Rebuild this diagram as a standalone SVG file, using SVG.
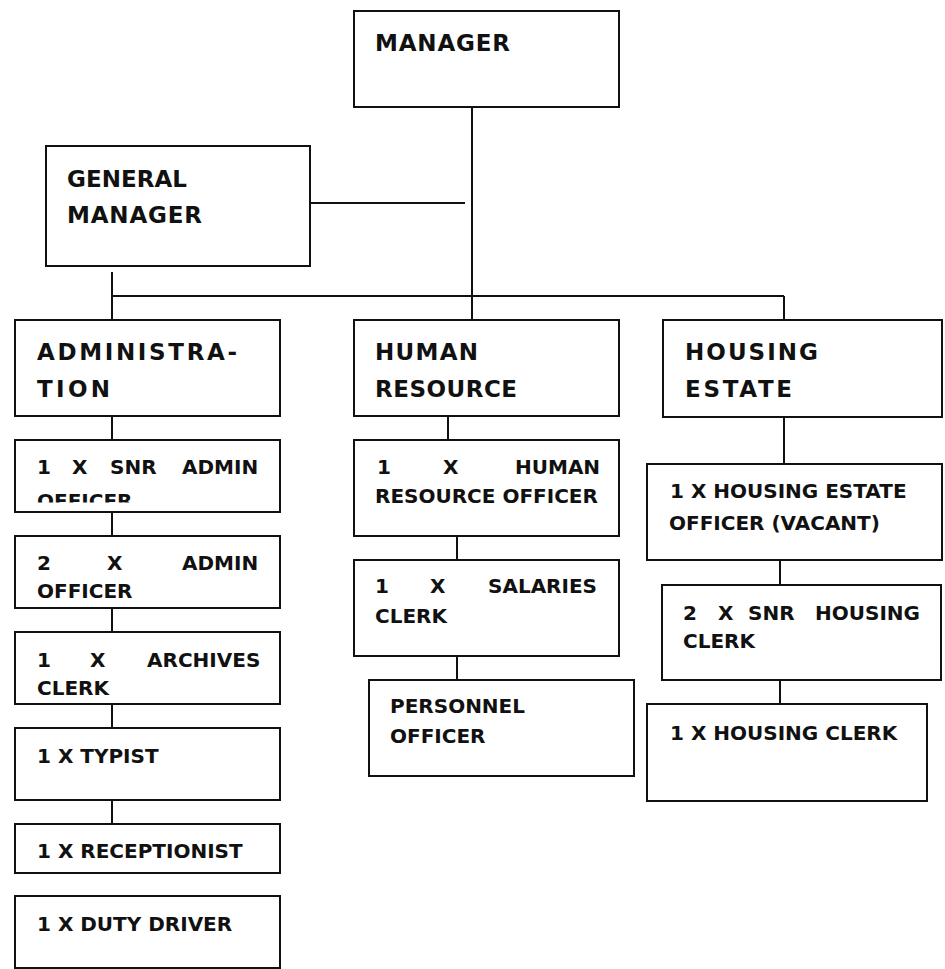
<svg xmlns="http://www.w3.org/2000/svg" width="945" height="969" viewBox="0 0 945 969">
  <style>
    .box { fill: #ffffff; stroke: #111111; stroke-width: 2; }
    .link { stroke: #111111; stroke-width: 2; fill: none; }
    .h { font-family: "DejaVu Sans", "Liberation Sans", sans-serif; font-weight: bold; font-size: 23px; fill: #111111; }
    .s { font-family: "DejaVu Sans", "Liberation Sans", sans-serif; font-weight: bold; font-size: 20px; fill: #111111; }
  </style>
  <defs>
    <clipPath id="clipSnrAdmin"><rect x="15" y="440" width="265" height="62.5"/></clipPath>
  </defs>
  <rect width="945" height="969" fill="#ffffff"/>

  <!-- connectors -->
  <g id="connectors">
    <line class="link" x1="472" y1="107" x2="472" y2="320"/>
    <line class="link" x1="310" y1="203" x2="465" y2="203"/>
    <line class="link" x1="112" y1="296" x2="784" y2="296"/>
    <line class="link" x1="112" y1="272" x2="112" y2="320"/>
    <line class="link" x1="784" y1="296" x2="784" y2="320"/>
    <!-- administration chain -->
    <line class="link" x1="112" y1="416" x2="112" y2="440"/>
    <line class="link" x1="112" y1="512" x2="112" y2="536"/>
    <line class="link" x1="112" y1="608" x2="112" y2="632"/>
    <line class="link" x1="112" y1="704" x2="112" y2="728"/>
    <line class="link" x1="112" y1="800" x2="112" y2="824"/>
    <!-- human resource chain -->
    <line class="link" x1="448" y1="416" x2="448" y2="440"/>
    <line class="link" x1="457" y1="536" x2="457" y2="560"/>
    <line class="link" x1="457" y1="656" x2="457" y2="680"/>
    <!-- housing chain -->
    <line class="link" x1="784" y1="417" x2="784" y2="464"/>
    <line class="link" x1="780" y1="560" x2="780" y2="585"/>
    <line class="link" x1="780" y1="680" x2="780" y2="704"/>
  </g>

  <g id="manager">
    <rect class="box" x="354" y="11" width="265" height="96"/>
    <text class="h" x="375" y="51" textLength="135" lengthAdjust="spacing">MANAGER</text>
  </g>

  <g id="general-manager">
    <rect class="box" x="46" y="146" width="264" height="120"/>
    <text class="h" x="67" y="187" textLength="120" lengthAdjust="spacing">GENERAL</text>
    <text class="h" x="67" y="223" textLength="135" lengthAdjust="spacing">MANAGER</text>
  </g>

  <!-- administration column -->
  <g id="administration">
    <rect class="box" x="15" y="320" width="265" height="96"/>
    <text class="h" x="37" y="360" textLength="200" lengthAdjust="spacing">ADMINISTRA-</text>
    <text class="h" x="37" y="397" textLength="73" lengthAdjust="spacing">TION</text>
  </g>

  <g id="snr-admin-officer">
    <rect class="box" x="15" y="440" width="265" height="72"/>
    <text class="s" y="474"><tspan x="37">1</tspan><tspan x="72">X</tspan><tspan x="110">SNR</tspan><tspan x="182">ADMIN</tspan></text>
    <text class="s" x="37" y="508" clip-path="url(#clipSnrAdmin)">OFFICER</text>
  </g>

  <g id="admin-officer">
    <rect class="box" x="15" y="536" width="265" height="72"/>
    <text class="s" y="570"><tspan x="37">2</tspan><tspan x="107">X</tspan><tspan x="182">ADMIN</tspan></text>
    <text class="s" x="37" y="598">OFFICER</text>
  </g>

  <g id="archives-clerk">
    <rect class="box" x="15" y="632" width="265" height="72"/>
    <text class="s" y="667"><tspan x="37">1</tspan><tspan x="90">X</tspan><tspan x="147">ARCHIVES</tspan></text>
    <text class="s" x="37" y="695">CLERK</text>
  </g>

  <g id="typist">
    <rect class="box" x="15" y="728" width="265" height="72"/>
    <text class="s" x="37" y="763">1 X TYPIST</text>
  </g>

  <g id="receptionist">
    <rect class="box" x="15" y="824" width="265" height="49"/>
    <text class="s" x="37" y="858">1 X RECEPTIONIST</text>
  </g>

  <g id="duty-driver">
    <rect class="box" x="15" y="896" width="265" height="72"/>
    <text class="s" x="37" y="931">1 X DUTY DRIVER</text>
  </g>

  <!-- human resource column -->
  <g id="human-resource">
    <rect class="box" x="354" y="320" width="265" height="96"/>
    <text class="h" x="375" y="360" textLength="103" lengthAdjust="spacing">HUMAN</text>
    <text class="h" x="375" y="397" textLength="142" lengthAdjust="spacing">RESOURCE</text>
  </g>

  <g id="hr-officer">
    <rect class="box" x="354" y="440" width="265" height="96"/>
    <text class="s" y="474"><tspan x="377">1</tspan><tspan x="443">X</tspan><tspan x="515">HUMAN</tspan></text>
    <text class="s" x="375" y="503">RESOURCE OFFICER</text>
  </g>

  <g id="salaries-clerk">
    <rect class="box" x="354" y="560" width="265" height="96"/>
    <text class="s" y="593"><tspan x="375">1</tspan><tspan x="430">X</tspan><tspan x="488">SALARIES</tspan></text>
    <text class="s" x="375" y="623">CLERK</text>
  </g>

  <g id="personnel-officer">
    <rect class="box" x="369" y="680" width="265" height="96"/>
    <text class="s" x="390" y="713">PERSONNEL</text>
    <text class="s" x="390" y="743">OFFICER</text>
  </g>

  <!-- housing estate column -->
  <g id="housing-estate">
    <rect class="box" x="663" y="320" width="279" height="97"/>
    <text class="h" x="685" y="360" textLength="133" lengthAdjust="spacing">HOUSING</text>
    <text class="h" x="685" y="397" textLength="107" lengthAdjust="spacing">ESTATE</text>
  </g>

  <g id="housing-estate-officer">
    <rect class="box" x="647" y="464" width="295" height="96"/>
    <text class="s" x="670" y="498">1 X HOUSING ESTATE</text>
    <text class="s" x="669" y="530">OFFICER (VACANT)</text>
  </g>

  <g id="snr-housing-clerk">
    <rect class="box" x="662" y="585" width="279" height="95"/>
    <text class="s" y="620"><tspan x="683">2</tspan><tspan x="718">X</tspan><tspan x="748">SNR</tspan><tspan x="815">HOUSING</tspan></text>
    <text class="s" x="683" y="648">CLERK</text>
  </g>

  <g id="housing-clerk">
    <rect class="box" x="647" y="704" width="280" height="97"/>
    <text class="s" x="670" y="740">1 X HOUSING CLERK</text>
  </g>
</svg>
